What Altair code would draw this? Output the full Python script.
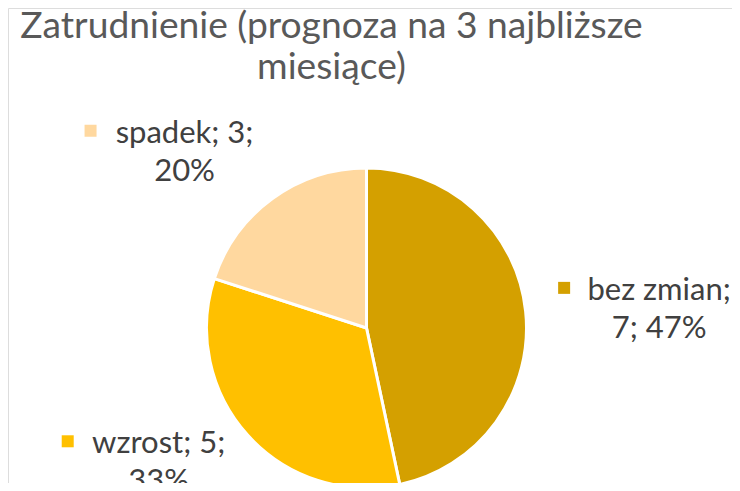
import altair as alt
import pandas as pd

# ---- data ----
categories = ["bez zmian", "wzrost", "spadek"]
values = [7, 5, 3]
colors = ["#D4A000", "#FFC000", "#FFD89F"]
first_line_parts = [1, 2, 2]  # how many label parts go on the first line
title_text = "Zatrudnienie (prognoza na 3 najbliższe\nmiesiące)"

# ---- layout / style ----
W, H = 724, 475
CX, CY, R = 358.5, 320, 160
LABEL_R = 250
label_shift = {"bez zmian": (44, -2), "wzrost": (-22, -42), "spadek": (-35, 17)}
marker_shift = {"bez zmian": (-95, -12), "wzrost": (-91, -12), "spadek": (-94, -12)}
FONT = "Lato"

total = sum(values)
rows = []
for i, (c, v, k) in enumerate(zip(categories, values, first_line_parts)):
    pct = round(v / total * 100)
    parts = [c, str(v), f"{pct}%"]
    label = "; ".join(parts[:k]) + ";\n" + "; ".join(parts[k:])
    rows.append(dict(cat=c, value=v, order=i, label=label))
df = pd.DataFrame(rows)

base = alt.Chart(df)

color = alt.Color("cat:N", scale=alt.Scale(domain=categories, range=colors), legend=None)

pie = base.mark_arc(outerRadius=R, stroke="white", strokeWidth=3).encode(
    theta=alt.Theta("value:Q", stack=True),
    color=color,
    order=alt.Order("order:Q"),
    x=alt.value(CX),
    y=alt.value(CY),
)

layers = [pie]
for cat in categories:
    sx, sy = label_shift[cat]
    mx, my = marker_shift[cat]
    b = (
        base.transform_joinaggregate(total="sum(value)")
        .transform_window(cum="sum(value)", sort=[alt.SortField("order")])
        .transform_calculate(mid="(datum.cum - datum.value/2)/datum.total*2*PI")
        .transform_calculate(
            lx=f"{CX} + {LABEL_R}*sin(datum.mid) + {sx}",
            ly=f"{CY} - {LABEL_R}*cos(datum.mid) + {sy}",
        )
        .transform_calculate(mxp=f"datum.lx + {mx}", myp=f"datum.ly + {my}")
        .transform_filter(alt.datum.cat == cat)
    )
    txt = b.mark_text(
        align="center", baseline="alphabetic", lineBreak="\n",
        fontSize=31, font=FONT, color="#404040", lineHeight=38,
    ).encode(
        x=alt.X("lx:Q", scale=None),
        y=alt.Y("ly:Q", scale=None),
        text="label:N",
    )
    mk = b.mark_square(size=144, opacity=1).encode(
        x=alt.X("mxp:Q", scale=None),
        y=alt.Y("myp:Q", scale=None),
        color=color,
    )
    layers += [mk, txt]

title = alt.Chart(pd.DataFrame({"t": [title_text]})).mark_text(
    align="center", baseline="alphabetic", lineBreak="\n",
    fontSize=37.2, font=FONT, color="#595959", lineHeight=41,
).encode(x=alt.value(323.5), y=alt.value(29.5), text="t:N")
layers.append(title)

chart = alt.layer(*layers).properties(
    width=W, height=H, autosize="none", padding=0
).configure_view(stroke=None).configure(background="white")

chart.save("out.html", embed_options={"renderer": "svg", "actions": False})
